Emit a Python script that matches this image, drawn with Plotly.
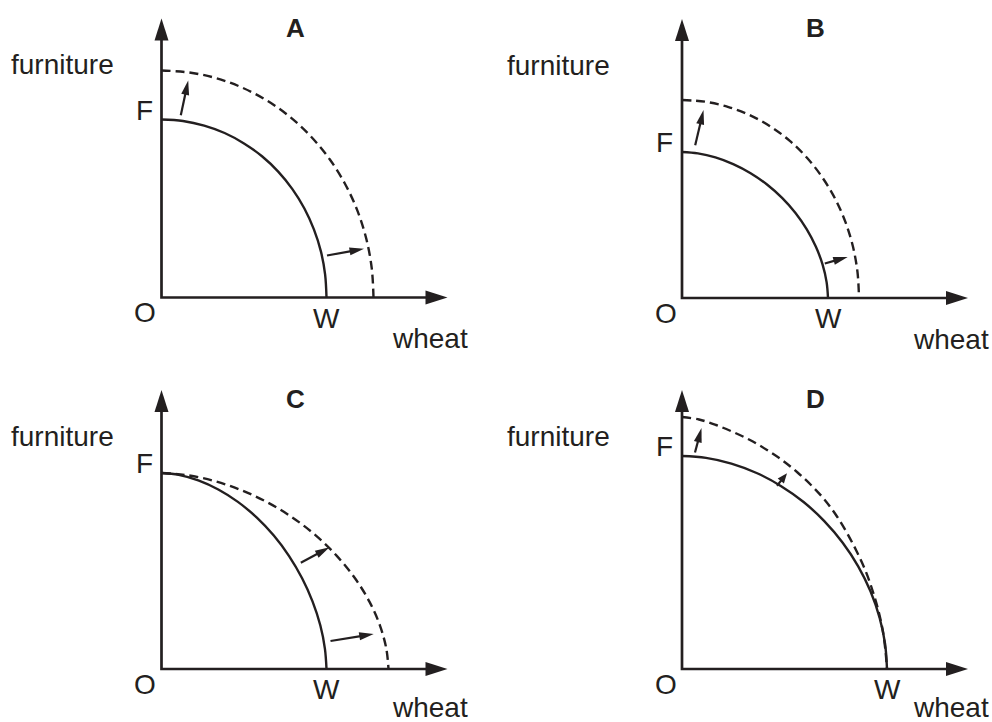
import math
import plotly.graph_objects as go

# ---------------- data (1 unit = 10 px) ----------------
PANELS = ["A", "B", "C", "D"]
AXIS_LABEL_X = "wheat"
AXIS_LABEL_Y = "furniture"

AXIS_X_LEN = 28.6
AXIS_Y_LEN = 27.9

A_solid_x = [0, 2.15, 4.27, 6.31, 8.25, 10.05, 11.67, 13.09, 14.29, 15.24, 15.94, 16.36, 16.5]
A_solid_y = [17.8, 17.65, 17.19, 16.45, 15.41, 14.12, 12.59, 10.84, 8.9, 6.81, 4.61, 2.32, 0]
A_dash_x = [0, 2.77, 5.49, 8.11, 10.6, 12.91, 14.99, 16.82, 18.36, 19.59, 20.48, 21.02, 21.2]
A_dash_y = [22.7, 22.5, 21.93, 20.97, 19.66, 18.01, 16.05, 13.82, 11.35, 8.69, 5.87, 2.96, 0]
A_arrows = [(1.93, 18.22, 2.67, 21.7), (16.55, 4.2, 20.25, 4.87)]

B_solid_x = [0, 1.59, 3.34, 5.12, 6.86, 8.5, 10.01, 11.35, 12.48, 13.39, 14.06, 14.46, 14.6]
B_solid_y = [14.6, 14.46, 14.06, 13.39, 12.48, 11.35, 10.01, 8.5, 6.86, 5.12, 3.34, 1.59, 0]
B_dash_x = [0, 2.31, 4.58, 6.77, 8.85, 10.78, 12.52, 14.04, 15.33, 16.35, 17.1, 17.55, 17.7]
B_dash_y = [19.8, 19.63, 19.12, 18.29, 17.15, 15.71, 14.0, 12.05, 9.9, 7.58, 5.12, 2.58, 0]
B_arrows = [(1.32, 15.28, 2.15, 18.8), (14.28, 3.45, 16.57, 4.1)]

C_solid_x = [0, 1.72, 3.68, 5.68, 7.64, 9.51, 11.23, 12.76, 14.06, 15.11, 15.88, 16.34, 16.5]
C_solid_y = [19.6, 19.41, 18.86, 17.95, 16.71, 15.16, 13.34, 11.29, 9.07, 6.74, 4.37, 2.04, 0]
C_dash_x = [0, 2.36, 5.06, 7.81, 10.51, 13.08, 15.45, 17.55, 19.35, 20.79, 21.84, 22.48, 22.7]
C_dash_y = [19.6, 19.41, 18.86, 17.95, 16.71, 15.16, 13.34, 11.29, 9.07, 6.74, 4.37, 2.04, 0]
C_arrows = [(13.93, 10.63, 16.8, 12.17), (16.9, 2.8, 21.22, 3.5)]

D_solid_x = [0, 2.40, 4.94, 7.46, 9.88, 12.16, 14.23, 16.07, 17.62, 18.86, 19.76, 20.31, 20.5]
D_solid_y = [21.3, 21.11, 20.54, 19.6, 18.31, 16.7, 14.79, 12.63, 10.27, 7.75, 5.13, 2.5, 0]
D_dash_x = [0, 1.7, 3.4, 5.1, 6.8, 8.5, 10.0, 11.5, 12.9, 14.2, 15.4, 16.5, 17.5, 18.4, 19.1, 19.7, 20.1, 20.35, 20.5]
D_dash_y = [25.2, 24.95, 24.4, 23.7, 22.9, 21.9, 20.9, 19.7, 18.4, 17.0, 15.4, 13.6, 11.7, 9.7, 7.7, 5.6, 3.7, 1.8, 0]
D_arrows = [(1.3, 21.65, 1.95, 24.1), (9.5, 18.33, 10.5, 19.57)]

SOLID_X = [A_solid_x, B_solid_x, C_solid_x, D_solid_x]
SOLID_Y = [A_solid_y, B_solid_y, C_solid_y, D_solid_y]
DASH_X = [A_dash_x, B_dash_x, C_dash_x, D_dash_x]
DASH_Y = [A_dash_y, B_dash_y, C_dash_y, D_dash_y]
ARROWS = [A_arrows, B_arrows, C_arrows, D_arrows]

# ---------------- layout geometry ----------------
W, H = 992, 722
PX = 10.0  # pixels per data unit
INK = "#231f20"
FONT = "Liberation Sans, Arial, Helvetica, sans-serif"

# (domain x, domain y, origin pixel x, origin pixel y)
GEOM = [
    ((0.0, 0.5), (0.5, 1.0), 161.5, 297.5),
    ((0.5, 1.0), (0.5, 1.0), 682.0, 298.0),
    ((0.0, 0.5), (0.0, 0.5), 161.5, 669.0),
    ((0.5, 1.0), (0.0, 0.5), 682.0, 669.0),
]

fig = go.Figure()
shapes = []
annotations = []


def head(x1, y1, ux, uy, hl, hw, xr, yr):
    bx, by = x1 - ux * hl, y1 - uy * hl
    px, py = -uy * hw, ux * hw
    path = f"M{x1},{y1} L{bx + px},{by + py} L{bx - px},{by - py} Z"
    return dict(type="path", path=path, xref=xr, yref=yr,
                fillcolor=INK, line=dict(width=0), layer="above")


for i, name in enumerate(PANELS):
    n = i + 1
    xr = "x" if n == 1 else f"x{n}"
    yr = "y" if n == 1 else f"y{n}"
    (dx0, dx1), (dy0, dy1), ox, oy = GEOM[i]
    left_px, right_px = dx0 * W, dx1 * W
    top_px, bottom_px = (1 - dy1) * H, (1 - dy0) * H
    xrange = [(left_px - ox) / PX, (right_px - ox) / PX]
    yrange = [(oy - bottom_px) / PX, (oy - top_px) / PX]
    ax_opts = dict(visible=False, fixedrange=True)
    fig.layout[f"xaxis{'' if n == 1 else n}"] = dict(
        domain=[dx0, dx1], range=xrange, anchor=yr, **ax_opts)
    fig.layout[f"yaxis{'' if n == 1 else n}"] = dict(
        domain=[dy0, dy1], range=yrange, anchor=xr, **ax_opts)

    ahl, ahw = 2.2, 0.7
    # axes
    fig.add_trace(go.Scatter(
        x=[0, 0, AXIS_X_LEN - ahl + 0.2], y=[AXIS_Y_LEN - ahl + 0.2, 0, 0],
        mode="lines", line=dict(color=INK, width=2.7),
        xaxis=xr, yaxis=yr, showlegend=False, hoverinfo="skip"))
    shapes.append(head(AXIS_X_LEN, 0, 1, 0, ahl, ahw, xr, yr))
    shapes.append(head(0, AXIS_Y_LEN, 0, 1, ahl, ahw, xr, yr))

    # curves
    fig.add_trace(go.Scatter(
        x=DASH_X[i], y=DASH_Y[i], mode="lines",
        line=dict(color=INK, width=2.4, dash="9px,5px", shape="spline", smoothing=1.0),
        xaxis=xr, yaxis=yr, showlegend=False, hoverinfo="skip"))
    fig.add_trace(go.Scatter(
        x=SOLID_X[i], y=SOLID_Y[i], mode="lines",
        line=dict(color=INK, width=2.4, shape="spline", smoothing=1.0),
        xaxis=xr, yaxis=yr, showlegend=False, hoverinfo="skip"))

    # small shift arrows
    for (x0, y0, x1, y1) in ARROWS[i]:
        ddx, ddy = x1 - x0, y1 - y0
        L = math.hypot(ddx, ddy)
        ux, uy = ddx / L, ddy / L
        hl = min(1.45, 0.62 * L)
        hw = 0.4
        shapes.append(dict(type="line", x0=x0, y0=y0,
                           x1=x1 - ux * (hl - 0.3), y1=y1 - uy * (hl - 0.3),
                           xref=xr, yref=yr, line=dict(color=INK, width=2.2)))
        shapes.append(head(x1, y1, ux, uy, hl, hw, xr, yr))

    # texts
    reg = dict(family=FONT, size=28, color=INK)
    annotations.append(dict(text=f"<b>{name}</b>", x=13.35, y=27.0, xref=xr, yref=yr,
                            showarrow=False, xanchor="center", yanchor="middle",
                            font=dict(family=FONT, size=26, color=INK)))
    annotations.append(dict(text=AXIS_LABEL_Y, x=(left_px + 9 - ox) / PX, y=23.3,
                            xref=xr, yref=yr, showarrow=False,
                            xanchor="left", yanchor="middle", font=reg))
    annotations.append(dict(text="F", x=-1.72, y=SOLID_Y[i][0] + 0.95, xref=xr, yref=yr,
                            showarrow=False, xanchor="center", yanchor="middle", font=reg))
    annotations.append(dict(text="O", x=-1.65, y=-1.5, xref=xr, yref=yr,
                            showarrow=False, xanchor="center", yanchor="middle", font=reg))
    annotations.append(dict(text="W", x=SOLID_X[i][-1], y=-2.05, xref=xr, yref=yr,
                            showarrow=False, xanchor="center", yanchor="middle", font=reg))
    annotations.append(dict(text=AXIS_LABEL_X, x=26.88, y=-4.1 if i < 2 else -3.85,
                            xref=xr, yref=yr, showarrow=False,
                            xanchor="center", yanchor="middle", font=reg))

fig.update_layout(
    width=W, height=H,
    margin=dict(l=0, r=0, t=0, b=0, pad=0),
    paper_bgcolor="white", plot_bgcolor="white",
    shapes=shapes, annotations=annotations,
    showlegend=False,
)

fig.write_html(
    "out.html",
    config={"displayModeBar": False, "staticPlot": True},
    post_script="document.body.style.margin='0';document.body.style.overflow='hidden';",
)
